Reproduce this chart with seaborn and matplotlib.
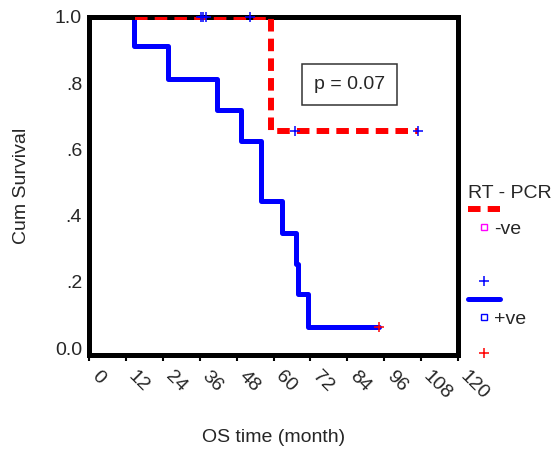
import matplotlib
matplotlib.use("Agg")
import matplotlib.pyplot as plt
import matplotlib.transforms as mtransforms
from matplotlib.lines import Line2D
import seaborn as sns
import pandas as pd

# ---- data ----
pos_time = [0, 14.6, 25.6, 41.7, 49.3, 55.8, 62.8, 67.2, 67.9, 71.3, 94.2]
pos_surv = [1.0, 0.912, 0.814, 0.720, 0.624, 0.443, 0.349, 0.254, 0.163, 0.065, 0.065]
pos_cens_time = [94.2]
pos_cens_surv = [0.065]

neg_time = [15.0, 59.3, 107.0]
neg_surv = [1.0, 0.657, 0.657]
neg_cens_time = [36.3, 37.2, 38.0, 52.3, 66.9, 107.0]
neg_cens_surv = [1.0, 1.0, 1.0, 1.0, 0.657, 0.657]

x_ticks = [0, 12, 24, 36, 48, 60, 72, 84, 96, 108, 120]
y_ticks = [0.0, 0.2, 0.4, 0.6, 0.8, 1.0]
y_ticklabels = ["0.0", ".2", ".4", ".6", ".8", "1.0"]
p_text = "p = 0.07"
legend_title = "RT - PCR"
group_labels = ["-ve", "+ve"]

sns.set_theme(style="white")
plt.rcParams["font.family"] = ["Liberation Sans", "DejaVu Sans"]

fig = plt.figure(figsize=(5.58, 4.51), dpi=100)
W, H = 558, 451
ax = fig.add_axes([89 / W, 1 - 355 / H, (458 - 89) / W, (355 - 17) / H])

pos_df = pd.DataFrame({"t": pos_time, "s": pos_surv})
neg_df = pd.DataFrame({"t": neg_time, "s": neg_surv})

sns.lineplot(data=pos_df, x="t", y="s", drawstyle="steps-post", estimator=None,
             sort=False, color=(0, 0, 1), lw=3.6, ax=ax, zorder=2)
sns.lineplot(data=neg_df, x="t", y="s", drawstyle="steps-post", estimator=None,
             sort=False, color=(1, 0, 0), lw=4.3, linestyle=(0, (2.1, 1.2)),
             ax=ax, zorder=3)

sns.scatterplot(x=neg_cens_time, y=neg_cens_surv, marker="+", s=45,
                color=(0, 0, 1), linewidth=1.1, ax=ax, zorder=5, clip_on=False)
sns.scatterplot(x=pos_cens_time, y=pos_cens_surv, marker="+", s=45,
                color=(1, 0, 0), linewidth=1.1, ax=ax, zorder=5, clip_on=False)

ax.set_xlim(0, 120)
ax.set_ylim(-0.021, 1.0)

for sp in ax.spines.values():
    sp.set_visible(True)
    sp.set_color("black")
    sp.set_linewidth(3.6)
    sp.set_zorder(2.5)

ax.set_xticks(x_ticks)
ax.set_xticklabels([str(v) for v in x_ticks], rotation=-45, ha="left",
                   va="center", rotation_mode="anchor", fontsize=14)
ax.set_yticks(y_ticks)
ax.set_yticklabels(y_ticklabels, fontsize=14)
ax.tick_params(axis="x", which="both", bottom=True, length=4.3, width=1.5,
               direction="out", color="black", pad=9)
ax.tick_params(axis="y", length=0, pad=5)
offset = mtransforms.ScaledTranslation(5 / 100, 0, fig.dpi_scale_trans)
for lab in ax.get_xticklabels():
    lab.set_transform(lab.get_transform() + offset)

ax.set_xlabel("OS time (month)", fontsize=14)
ax.set_ylabel("Cum Survival", fontsize=14)
ax.xaxis.label.set_va("center")
ax.xaxis.set_label_coords(0.5, (355 - 438) / 338)
ax.yaxis.label.set_va("center")
ax.yaxis.set_label_coords((22 - 89) / 369, 0.5)

ax.text(84.7, 0.796, p_text, fontsize=14, ha="center", va="center",
        bbox=dict(boxstyle="square,pad=0.6", fc="white", ec="#333333", lw=1.1),
        zorder=6)

blank = Line2D([], [], linestyle="none")
handles = [
    Line2D([], [], color=(1, 0, 0), lw=4.3, linestyle=(0, (2.1, 1.2))),
    Line2D([], [], linestyle="none", marker="s", markersize=4.5,
           markerfacecolor="none", markeredgecolor=(1, 0, 1), markeredgewidth=1),
    blank, blank,
    Line2D([], [], linestyle="none", marker="+", markersize=6.5,
           color=(0, 0, 1), markeredgewidth=1.1),
    Line2D([], [], color=(0, 0, 1), lw=3.6),
    Line2D([], [], linestyle="none", marker="s", markersize=4.5,
           markerfacecolor="none", markeredgecolor=(0, 0, 1), markeredgewidth=1),
    blank,
    Line2D([], [], linestyle="none", marker="+", markersize=6.5,
           color=(1, 0, 0), markeredgewidth=1.1),
]
labels = [" ", group_labels[0], " ", " ", " ", " ", group_labels[1], " ", " "]
leg = fig.legend(handles, labels, title=legend_title, loc="upper left",
                 bbox_to_anchor=(468 / W, 1 - 185 / H), frameon=False,
                 fontsize=14, title_fontsize=14, borderpad=0, borderaxespad=0,
                 handlelength=1.65, handletextpad=-0.3, labelspacing=0.02,
                 alignment="left")

fig.savefig("out.png", dpi=100)
